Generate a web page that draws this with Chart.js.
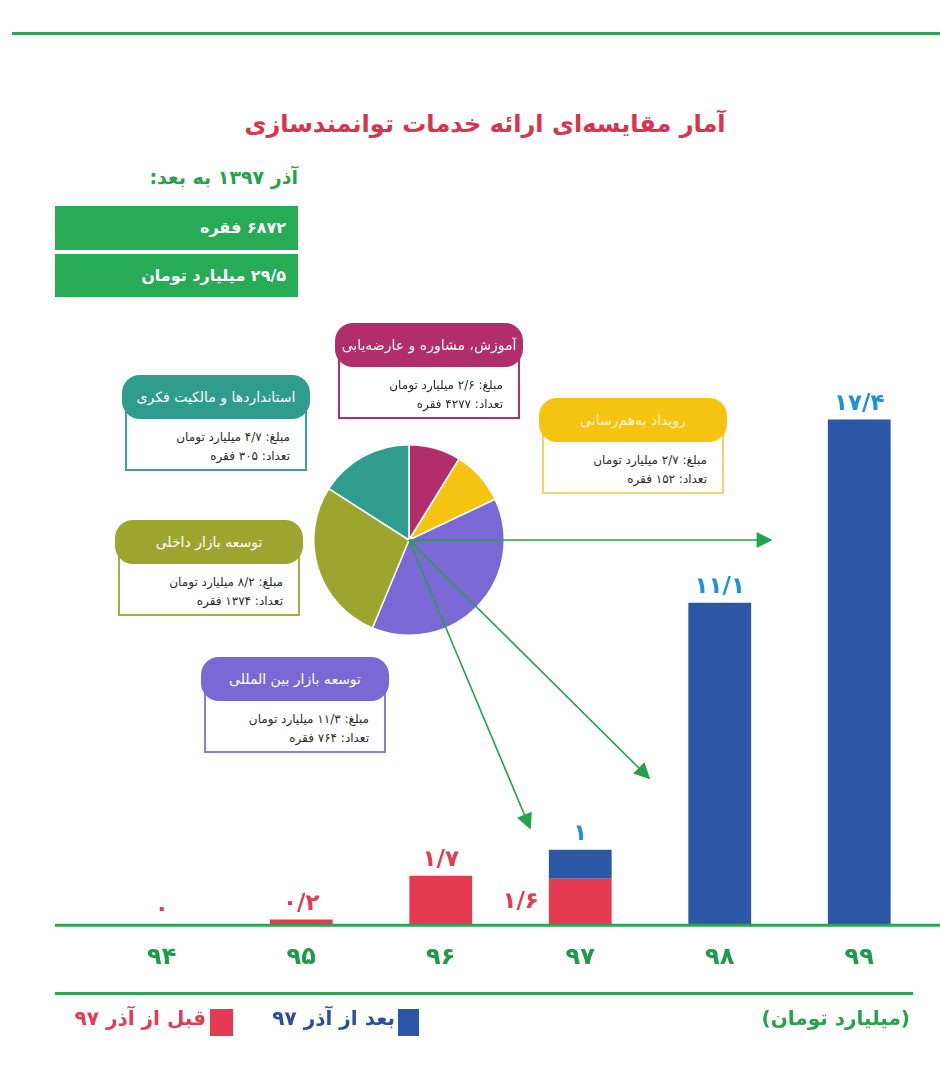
<!DOCTYPE html>
<html lang="fa">
<head>
<meta charset="utf-8">
<script src="https://cdn.jsdelivr.net/npm/chart.js@4.4.1/dist/chart.umd.min.js"></script>
<style>
  html, body { margin: 0; padding: 0; background: #fff; }
  body { width: 940px; height: 1080px; position: relative; overflow: hidden; font-family: "DejaVu Sans", sans-serif; }
  .abs { position: absolute; white-space: nowrap; }
  .rtl { direction: rtl; }
  .hline { position: absolute; height: 3px; background: #2aa84f; }
  #title { left: 0; width: 970px; top: 110px; text-align: center; font-size: 24px; font-weight: bold; color: #d8334f; }
  #since { right: 642px; top: 166px; font-size: 19px; font-weight: bold; color: #27a14c; }
  .gbox { position: absolute; left: 55px; width: 243px; background: #27ab55; color: #fff; font-size: 16px; font-weight: bold; direction: rtl; text-align: right; box-sizing: border-box; padding-right: 12px; }
  .callout { position: absolute; width: 188px; height: 98px; }
  .callout .box { position: absolute; left: 3px; top: 22px; width: 182px; height: 74px; box-sizing: border-box; border: 2px solid var(--c); border-top: none; background: #fff; }
  .callout .pill { position: absolute; left: 0; top: 0; width: 188px; height: 44px; border-radius: 18px; background: var(--c); color: var(--t, #fff); font-size: 14px; text-align: center; line-height: 44px; direction: rtl; }
  .callout .line { position: absolute; right: 20px; font-size: 12px; color: #2a2a2a; direction: rtl; white-space: nowrap; }
  #barWrap { position: absolute; left: 0; top: 330px; width: 940px; height: 660px; }
  #pieWrap { position: absolute; left: 309px; top: 440px; width: 200px; height: 200px; }
  .leg { position: absolute; font-size: 20px; font-weight: bold; direction: rtl; white-space: nowrap; }
  .sq { position: absolute; top: 1009px; height: 27px; }
</style>
</head>
<body>
<div class="hline" style="left:12px; width:928px; top:32px;"></div>

<div id="title" class="abs rtl">آمار مقایسه‌ای ارائه خدمات توانمندسازی</div>
<div id="since" class="abs rtl">آذر ۱۳۹۷ به بعد:</div>
<div class="gbox" style="top:206px; height:44px; line-height:44px;">۶۸۷۲ فقره</div>
<div class="gbox" style="top:254px; height:43px; line-height:43px;">۲۹/۵ میلیارد تومان</div>

<div id="barWrap"><canvas id="barChart"></canvas></div>
<div id="pieWrap"><canvas id="pieChart"></canvas></div>
<div id="callouts"></div>

<svg class="abs" width="940" height="1080" style="left:0; top:0; pointer-events:none;">
  <defs>
    <marker id="ah" viewBox="0 0 10 10" refX="9" refY="5" markerUnits="userSpaceOnUse" markerWidth="22" markerHeight="16" orient="auto">
      <path d="M0,0 L10,5 L0,10 z" fill="#22a24a"/>
    </marker>
  </defs>
  <line x1="409" y1="540" x2="771" y2="540" stroke="#22a24a" stroke-width="1.6" marker-end="url(#ah)"/>
  <line x1="409" y1="540" x2="649" y2="778" stroke="#22a24a" stroke-width="1.6" marker-end="url(#ah)"/>
  <line x1="409" y1="540" x2="530" y2="828" stroke="#22a24a" stroke-width="1.6" marker-end="url(#ah)"/>
</svg>

<div class="hline" style="left:55px; width:858px; top:992px;"></div>
<div class="leg" style="right:30px; top:1006px; color:#27a14c;">(میلیارد تومان)</div>
<div class="sq" style="left:398px; width:21px; background:#2b57a6;"></div>
<div class="leg" style="right:545px; top:1006px; color:#2b4f9f;">بعد از آذر ۹۷</div>
<div class="sq" style="left:210px; width:23px; background:#e63a52;"></div>
<div class="leg" style="right:734px; top:1006px; color:#e63a52;">قبل از آذر ۹۷</div>

<script>
// bar data (billion toman)
const years = ["۹۴", "۹۵", "۹۶", "۹۷", "۹۸", "۹۹"];
const beforeAzar97 = [0, 0.2, 1.7, 1.6, null, null];
const afterAzar97 = [null, null, null, 1, 11.1, 17.4];

// pie data
const pieLabels = ["آموزش، مشاوره و عارضه‌یابی", "رویداد به‌هم‌رسانی", "توسعه بازار بین المللی", "توسعه بازار داخلی", "استانداردها و مالکیت فکری"];
const pieAmounts = [2.6, 2.7, 11.3, 8.2, 4.7];
const pieCounts = [4277, 152, 764, 1374, 305];
const pieColors = ["#b22d6c", "#f6c410", "#7a68d4", "#9ca62f", "#2f9c8e"];

const RED = "#e63a52";
const BLUE = "#2b57a6";
const LABEL_BLUE = "#1d93d6";

const faDigits = "۰۱۲۳۴۵۶۷۸۹";
function fa(v) {
  return String(v).replace(/\d/g, d => faDigits[d]).replace(".", "/");
}

// callouts (layout only)
const calloutPos = [[335, 323], [539, 398], [201, 657], [115, 520], [122, 375]];
const calloutText = ["#fff", "#fff6c8", "#fff", "#fff", "#fff"];
const calloutBorder = ["#b22d6c", "#f2d36a", "#8b7cd8", "#a5ae45", "#3aa294"];
const holder = document.getElementById("callouts");
pieLabels.forEach((name, i) => {
  const el = document.createElement("div");
  el.className = "callout";
  el.style.left = calloutPos[i][0] + "px";
  el.style.top = calloutPos[i][1] + "px";
  el.style.setProperty("--c", pieColors[i]);
  el.style.setProperty("--t", calloutText[i]);
  el.innerHTML = `
    <div class="box" style="border-color:${calloutBorder[i]}"></div>
    <div class="pill">${name}</div>
    <div class="line" style="top:55px">مبلغ: ${fa(pieAmounts[i])} میلیارد تومان</div>
    <div class="line" style="top:74px">تعداد: ${fa(pieCounts[i])} فقره</div>`;
  holder.appendChild(el);
});

// baseline + value labels
const barExtras = {
  id: "barExtras",
  afterDatasetsDraw(chart) {
    const { ctx } = chart;
    const y0 = chart.scales.y.getPixelForValue(0);
    ctx.save();
    ctx.strokeStyle = "#2aa84f";
    ctx.lineWidth = 3;
    ctx.beginPath();
    ctx.moveTo(55, y0);
    ctx.lineTo(940, y0);
    ctx.stroke();

    const red = chart.getDatasetMeta(0);
    const blue = chart.getDatasetMeta(1);
    ctx.font = "bold 23px 'DejaVu Sans'";
    years.forEach((yr, i) => {
      const r = beforeAzar97[i];
      const b = afterAzar97[i];
      if (r != null) {
        const bar = red.data[i];
        ctx.fillStyle = RED;
        if (b != null) {
          ctx.textAlign = "right";
          ctx.textBaseline = "middle";
          ctx.fillText(fa(r), bar.x - bar.width / 2 - 10, (bar.y + bar.base) / 2);
        } else {
          ctx.textAlign = "center";
          ctx.textBaseline = "bottom";
          ctx.fillText(fa(r), bar.x, bar.y - 4);
        }
      }
      if (b != null) {
        const bar = blue.data[i];
        ctx.fillStyle = LABEL_BLUE;
        ctx.textAlign = "center";
        ctx.textBaseline = "bottom";
        ctx.fillText(fa(b), bar.x, bar.y - 4);
      }
    });
    ctx.restore();
  }
};

new Chart(document.getElementById("barChart"), {
  type: "bar",
  data: {
    labels: years,
    datasets: [
      { label: "قبل از آذر ۹۷", data: beforeAzar97, backgroundColor: RED },
      { label: "بعد از آذر ۹۷", data: afterAzar97, backgroundColor: BLUE }
    ]
  },
  options: {
    responsive: true,
    maintainAspectRatio: false,
    animation: false,
    layout: { padding: { top: 14, left: 92, right: 11, bottom: 0 } },
    datasets: { bar: { barPercentage: 0.9, categoryPercentage: 0.5 } },
    plugins: { legend: { display: false }, tooltip: { enabled: false } },
    scales: {
      x: {
        stacked: true,
        grid: { display: false, drawTicks: false },
        border: { display: false },
        ticks: { color: "#1f9a48", padding: 18, font: { family: "DejaVu Sans", size: 24, weight: "bold" } }
      },
      y: { stacked: true, display: false, min: 0, max: 20 }
    }
  },
  plugins: [barExtras]
});

new Chart(document.getElementById("pieChart"), {
  type: "pie",
  data: {
    labels: pieLabels,
    datasets: [{ data: pieAmounts, backgroundColor: pieColors, borderColor: "#fff", borderWidth: 1.5 }]
  },
  options: {
    responsive: true,
    maintainAspectRatio: false,
    animation: false,
    layout: { padding: 4 },
    plugins: { legend: { display: false }, tooltip: { enabled: false } }
  }
});
</script>
</body>
</html>
